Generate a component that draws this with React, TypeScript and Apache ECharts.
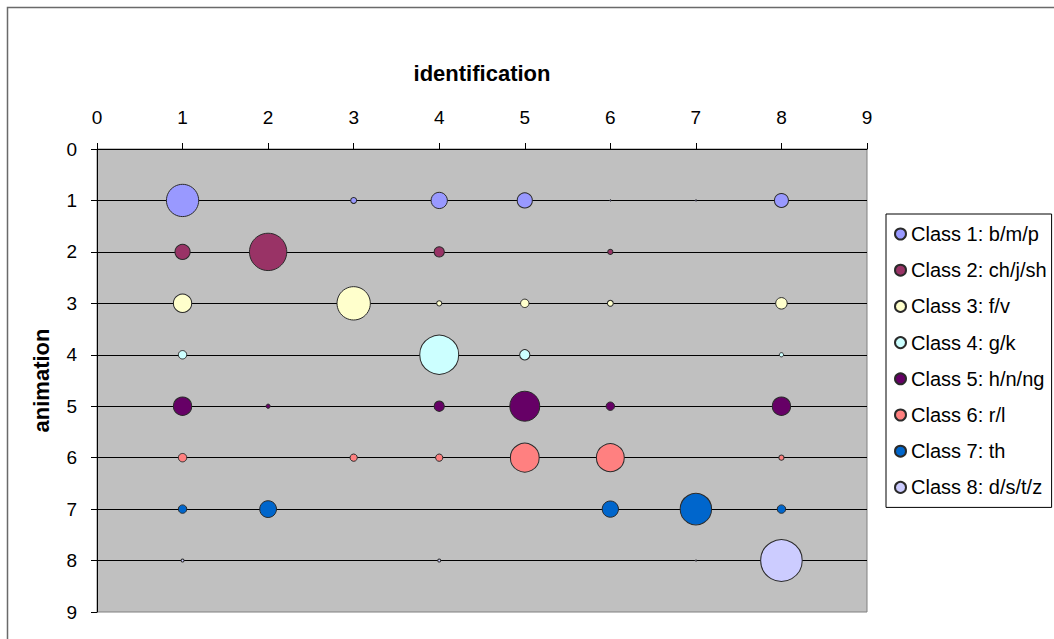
import React, { useEffect, useRef } from "react";
import * as echarts from "echarts";

// Identification class (x) for each column of the rows below
const identificationClasses = [1, 2, 3, 4, 5, 6, 7, 8];

// Legend names, one per animation class (row)
const classNames = [
  "Class 1: b/m/p",
  "Class 2: ch/j/sh",
  "Class 3: f/v",
  "Class 4: g/k",
  "Class 5: h/n/ng",
  "Class 6: r/l",
  "Class 7: th",
  "Class 8: d/s/t/z",
];

// Percent of responses per identification class, one row per animation class
const class1 = [59, 0, 2, 15, 13, 0.1, 0.1, 11];
const class2 = [13, 79, 0, 6, 0, 1.5, 0, 0];
const class3 = [19, 0, 63, 1.5, 4, 2, 0, 7.5];
const class4 = [4, 0, 0, 86, 6, 0, 0, 1];
const class5 = [19, 1, 0, 6, 51, 4, 0, 19];
const class6 = [4, 0, 3, 3, 47, 44, 0, 1.5];
const class7 = [4, 16, 0, 0, 0, 15, 56, 4];
const class8 = [0.5, 0, 0, 0.5, 0, 0, 0.1, 98];

const rows = [class1, class2, class3, class4, class5, class6, class7, class8];

const classColors = [
  "#9999FF",
  "#993366",
  "#FFFFCC",
  "#CCFFFF",
  "#660066",
  "#FF8080",
  "#0066CC",
  "#CCCCFF",
];

const axisTicks = [0, 1, 2, 3, 4, 5, 6, 7, 8, 9];

const FONT = 'Arial, "Liberation Sans", sans-serif';
const BUBBLE_SCALE = 4.2;

export default function App() {
  const ref = useRef<HTMLDivElement>(null);

  useEffect(() => {
    if (!ref.current) return;
    const chart = echarts.init(ref.current, null, { renderer: "svg" });

    const series = rows.map((row, i) => ({
      name: classNames[i],
      type: "scatter",
      data: row
        .map((v, j) => [identificationClasses[j], i + 1, v])
        .filter((d) => d[2] > 0),
      symbol: "circle",
      symbolSize: (val: number[]) => BUBBLE_SCALE * Math.sqrt(val[2]),
      itemStyle: {
        color: classColors[i],
        borderColor: "#2a2a2a",
        borderWidth: 1,
        opacity: 1,
      },
      emphasis: { disabled: true },
    }));

    chart.setOption({
      animation: false,
      backgroundColor: "#ffffff",
      textStyle: { fontFamily: FONT },
      graphic: [
        {
          type: "rect",
          shape: { x: 7.5, y: 7.5, width: 1100, height: 700 },
          style: { fill: "none", stroke: "#6a6a6a", lineWidth: 1.5 },
          silent: true,
          z: -10,
        },
      ],
      grid: {
        left: 97,
        top: 149,
        width: 770,
        height: 463,
        show: true,
        backgroundColor: "#C0C0C0",
        borderColor: "#808080",
        borderWidth: 1,
      },
      legend: {
        orient: "vertical",
        left: 886,
        top: 214,
        padding: [10, 5, 10, 8],
        itemWidth: 11,
        itemHeight: 11,
        itemGap: 16.2,
        itemTextGap: 6,
        icon: "circle",
        borderColor: "#000",
        borderWidth: 1,
        backgroundColor: "#fff",
        selectedMode: false,
        data: classNames,
        textStyle: {
          fontFamily: FONT,
          fontSize: 20,
          lineHeight: 18,
          color: "#000",
        },
      },
      xAxis: {
        type: "value",
        position: "top",
        min: axisTicks[0],
        max: axisTicks[axisTicks.length - 1],
        interval: 1,
        name: "identification",
        nameLocation: "middle",
        nameGap: 65,
        nameTextStyle: {
          fontFamily: FONT,
          fontSize: 22,
          fontWeight: "bold",
          color: "#000",
        },
        axisLine: { show: true, onZero: false, lineStyle: { color: "#000", width: 1 } },
        axisTick: { show: true, length: 6, lineStyle: { color: "#000" } },
        axisLabel: { fontFamily: FONT, fontSize: 19, color: "#000", margin: 22 },
        splitLine: { show: false },
      },
      yAxis: {
        type: "value",
        inverse: true,
        min: axisTicks[0],
        max: axisTicks[axisTicks.length - 1],
        interval: 1,
        name: "animation",
        nameLocation: "middle",
        nameGap: 45,
        nameRotate: 90,
        nameTextStyle: {
          fontFamily: FONT,
          fontSize: 22,
          fontWeight: "bold",
          color: "#000",
        },
        axisLine: { show: true, onZero: false, lineStyle: { color: "#000", width: 1 } },
        axisTick: { show: true, length: 6, lineStyle: { color: "#000" } },
        axisLabel: { fontFamily: FONT, fontSize: 19, color: "#000", margin: 20 },
        splitLine: {
          show: true,
          showMinLine: false,
          showMaxLine: false,
          lineStyle: { color: "#000", width: 1 },
        },
      },
      series,
    });

    return () => chart.dispose();
  }, []);

  return (
    <div
      ref={ref}
      style={{ position: "fixed", left: 0, top: 0, width: 1054, height: 639 }}
    />
  );
}
